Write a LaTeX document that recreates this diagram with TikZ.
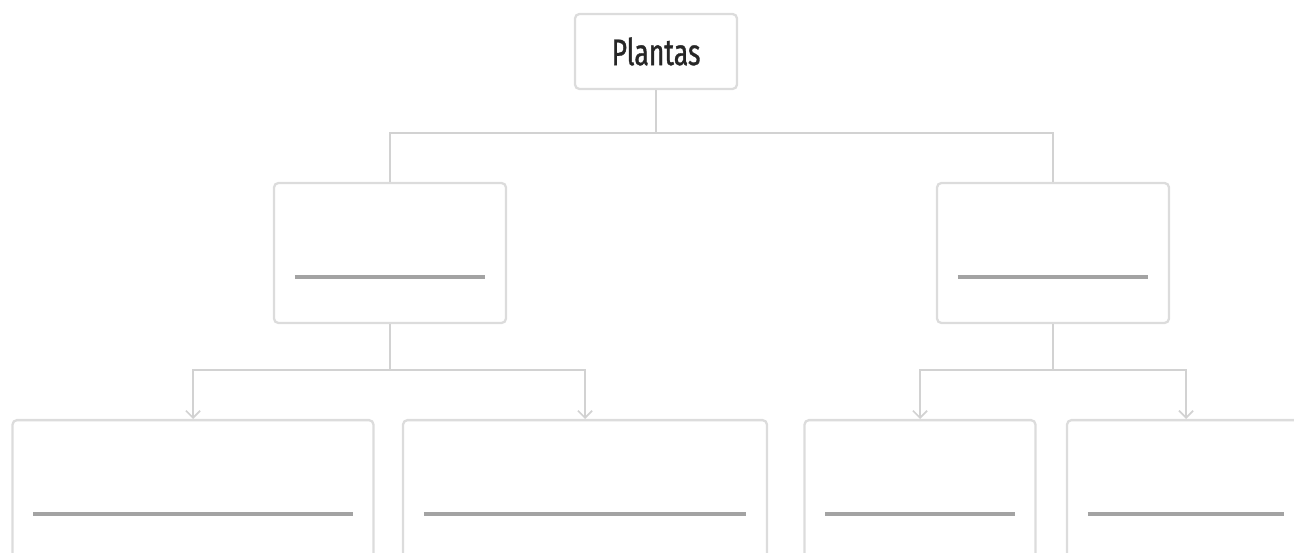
\documentclass[tikz,border=0pt]{standalone}
\usepackage{fontspec}
\setmainfont{Fira Sans}
\newfontfamily\plantfont{Fira Sans}[FakeStretch=0.72, FakeBold=0.9]
\usetikzlibrary{arrows.meta,calc}
\definecolor{boxgray}{HTML}{DCDCDC}
\definecolor{linkgray}{HTML}{D2D2D2}
\definecolor{blankgray}{HTML}{A3A3A3}
\definecolor{textgray}{HTML}{262626}
\tikzset{
  box/.style={draw=boxgray, line width=1.3pt, rounded corners=2.5pt, fill=white, inner sep=0pt},
  link/.style={draw=linkgray, line width=1pt},
  blank/.style={draw=blankgray, line width=2pt},
}
\begin{document}
\begin{tikzpicture}[x=0.02cm,y=-0.02cm]
                \useasboundingbox (0,0) rectangle (1294,553);
                \clip (0,0) rectangle (1294,553);
                % top
                \node[box, minimum width=3.24cm, minimum height=1.5cm, text=textgray,
                      font=\plantfont\fontsize{21}{24}\selectfont] (plantas) at (656,51.5) {Plantas};
                % second row
                \node[box, minimum width=4.64cm, minimum height=2.8cm] (ml) at (390,253) {};
                \node[box, minimum width=4.64cm, minimum height=2.8cm] (mr) at (1053,253) {};
                % third row, cut by the lower edge
                \node[box, anchor=north, minimum width=7.22cm, minimum height=4cm] (bl1) at (193,419) {};
                \node[box, anchor=north, minimum width=7.28cm, minimum height=4cm] (bl2) at (585,419) {};
                \node[box, anchor=north, minimum width=4.62cm, minimum height=4cm] (br1) at (920,419) {};
                \node[box, anchor=north, minimum width=4.76cm, minimum height=4cm] (br2) at (1186,419) {};
                % blanks
                \foreach \n in {ml,mr,bl1,bl2,br1,br2} {
                        \draw[blank] ($(\n.north west)+(22,95)$) -- ($(\n.north east)+(-22,95)$);
                    }
                % connectors
                \coordinate (j0) at (656,133);
                \coordinate (jl) at (390,370);
                \coordinate (jr) at (1053,370);
                \draw[link] (plantas.south) -- (j0) -| (ml.north);
                \draw[link] (j0) -| (mr.north);
                \draw[link] (ml.south) -- (jl);
                \draw[link] (mr.south) -- (jr);
                \foreach \a/\b in {jl/bl1, jl/bl2, jr/br1, jr/br2} {
                        \draw[link, -{Straight Barb[length=4pt,width=8pt]}] (\a) -| (\b.north);
                    }
            \end{tikzpicture}
\end{document}
